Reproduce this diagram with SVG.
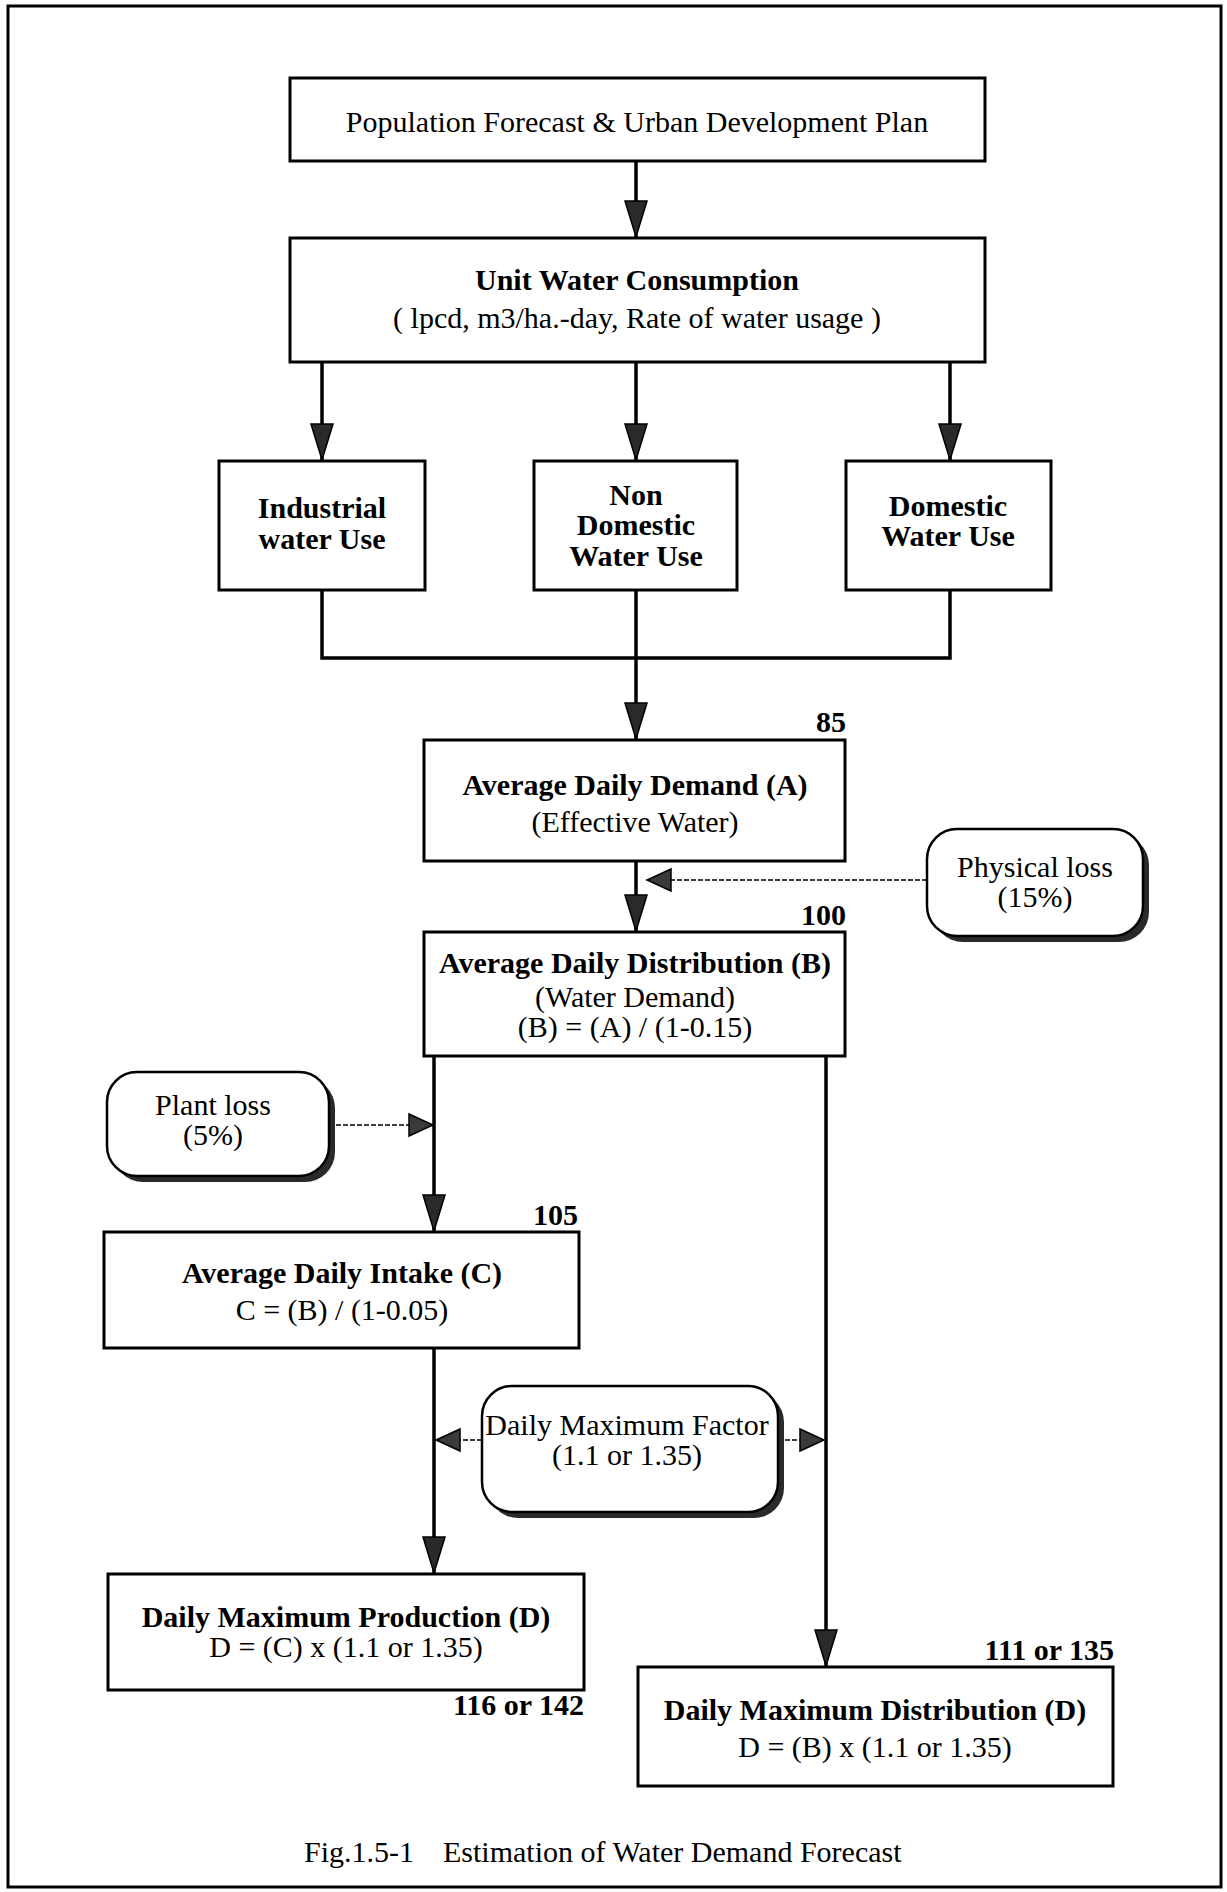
<svg xmlns="http://www.w3.org/2000/svg" width="1227" height="1892" viewBox="0 0 1227 1892">
<style>
.box{fill:#fff;stroke:#000;stroke-width:3}
.rbox{fill:#fff;stroke:#000;stroke-width:2.5}
.shadow{fill:#2a2a2a;stroke:none}
.t{font-family:"Liberation Serif","Times New Roman",serif;font-size:30px;text-anchor:middle;fill:#000}
.b{font-weight:bold}
.num{font-family:"Liberation Serif","Times New Roman",serif;font-size:30px;font-weight:bold;text-anchor:end;fill:#000}
.conn{stroke:#000;stroke-width:3.5;fill:none}
.dash{stroke:#000;stroke-width:1.6;stroke-dasharray:5 2;fill:none}
</style>
<defs>
<marker id="big" markerUnits="userSpaceOnUse" markerWidth="40" markerHeight="26" refX="37" refY="13" orient="auto">
<path d="M1,2 L37,13 L1,24 Z" fill="#2a2a2a" stroke="#000" stroke-width="1.5"/>
</marker>
<marker id="small" markerUnits="userSpaceOnUse" markerWidth="28" markerHeight="26" refX="25" refY="13" orient="auto">
<path d="M1,2 L25,13 L1,24 Z" fill="#3a3a3a" stroke="#000" stroke-width="1.5"/>
</marker>
</defs>
<rect x="8" y="6" width="1213" height="1881" fill="#fff" stroke="#000" stroke-width="3"/>

<g id="connectors">
<line class="conn" x1="636" y1="161" x2="636" y2="237" marker-end="url(#big)"/>
<line class="conn" x1="322" y1="362" x2="322" y2="460" marker-end="url(#big)"/>
<line class="conn" x1="636" y1="362" x2="636" y2="460" marker-end="url(#big)"/>
<line class="conn" x1="950" y1="362" x2="950" y2="460" marker-end="url(#big)"/>
<polyline class="conn" points="322,590 322,658 950,658 950,590"/>
<line class="conn" x1="636" y1="590" x2="636" y2="739" marker-end="url(#big)"/>
<line class="conn" x1="636" y1="861" x2="636" y2="931" marker-end="url(#big)"/>
<line class="dash" x1="927" y1="880" x2="647" y2="880" marker-end="url(#small)"/>
<line class="conn" x1="434" y1="1056" x2="434" y2="1231" marker-end="url(#big)"/>
<line class="dash" x1="329" y1="1125" x2="433" y2="1125" marker-end="url(#small)"/>
<line class="conn" x1="434" y1="1348" x2="434" y2="1573" marker-end="url(#big)"/>
<line class="dash" x1="482" y1="1440" x2="436" y2="1440" marker-end="url(#small)"/>
<line class="dash" x1="778" y1="1440" x2="824" y2="1440" marker-end="url(#small)"/>
<line class="conn" x1="826" y1="1056" x2="826" y2="1666" marker-end="url(#big)"/>
</g>

<g id="population">
<rect class="box" x="290" y="78" width="695" height="83"/>
<text class="t" x="637" y="132">Population Forecast &amp; Urban Development Plan</text>
</g>

<g id="unit-water">
<rect class="box" x="290" y="238" width="695" height="124"/>
<text class="t b" x="637" y="290">Unit Water Consumption</text>
<text class="t" x="637" y="328">( lpcd, m3/ha.-day, Rate of water usage )</text>
</g>

<g id="industrial">
<rect class="box" x="219" y="461" width="206" height="129"/>
<text class="t b" x="322" y="518">Industrial</text>
<text class="t b" x="322" y="549">water Use</text>
</g>

<g id="non-domestic">
<rect class="box" x="534" y="461" width="203" height="129"/>
<text class="t b" x="636" y="505">Non</text>
<text class="t b" x="636" y="535">Domestic</text>
<text class="t b" x="636" y="566">Water Use</text>
</g>

<g id="domestic">
<rect class="box" x="846" y="461" width="205" height="129"/>
<text class="t b" x="948" y="516">Domestic</text>
<text class="t b" x="948" y="546">Water Use</text>
</g>

<g id="avg-demand">
<rect class="box" x="424" y="740" width="421" height="121"/>
<text class="num" x="846" y="732">85</text>
<text class="t b" x="635" y="795">Average Daily Demand (A)</text>
<text class="t" x="635" y="832">(Effective Water)</text>
</g>

<g id="physical-loss">
<rect class="shadow" x="933" y="835" width="216" height="107" rx="30"/>
<rect class="rbox" x="927" y="829" width="216" height="107" rx="30"/>
<text class="t" x="1035" y="877">Physical loss</text>
<text class="t" x="1035" y="907">(15%)</text>
</g>

<g id="avg-distribution">
<rect class="box" x="424" y="932" width="421" height="124"/>
<text class="num" x="846" y="925">100</text>
<text class="t b" x="635" y="973">Average Daily Distribution (B)</text>
<text class="t" x="635" y="1007">(Water Demand)</text>
<text class="t" x="635" y="1037">(B) = (A) / (1-0.15)</text>
</g>

<g id="plant-loss">
<rect class="shadow" x="113" y="1078" width="222" height="104" rx="30"/>
<rect class="rbox" x="107" y="1072" width="222" height="104" rx="30"/>
<text class="t" x="213" y="1115">Plant loss</text>
<text class="t" x="213" y="1145">(5%)</text>
</g>

<g id="avg-intake">
<rect class="box" x="104" y="1232" width="475" height="116"/>
<text class="num" x="578" y="1225">105</text>
<text class="t b" x="342" y="1283">Average Daily Intake (C)</text>
<text class="t" x="342" y="1320">C = (B) / (1-0.05)</text>
</g>

<g id="daily-max-factor">
<rect class="shadow" x="488" y="1392" width="296" height="126" rx="30"/>
<rect class="rbox" x="482" y="1386" width="296" height="126" rx="30"/>
<text class="t" x="627" y="1435">Daily Maximum Factor</text>
<text class="t" x="627" y="1465">(1.1 or 1.35)</text>
</g>

<g id="daily-max-production">
<rect class="box" x="108" y="1574" width="476" height="116"/>
<text class="t b" x="346" y="1627">Daily Maximum Production (D)</text>
<text class="t" x="346" y="1657">D = (C) x (1.1 or 1.35)</text>
<text class="num" x="584" y="1715">116 or 142</text>
</g>

<g id="daily-max-distribution">
<rect class="box" x="638" y="1667" width="475" height="119"/>
<text class="num" x="1114" y="1660">111 or 135</text>
<text class="t b" x="875" y="1720">Daily Maximum Distribution (D)</text>
<text class="t" x="875" y="1757">D = (B) x (1.1 or 1.35)</text>
</g>

<g id="caption">
<text class="t" x="304" y="1862" style="text-anchor:start">Fig.1.5-1</text>
<text class="t" x="443" y="1862" style="text-anchor:start">Estimation of Water Demand Forecast</text>
</g>
</svg>
